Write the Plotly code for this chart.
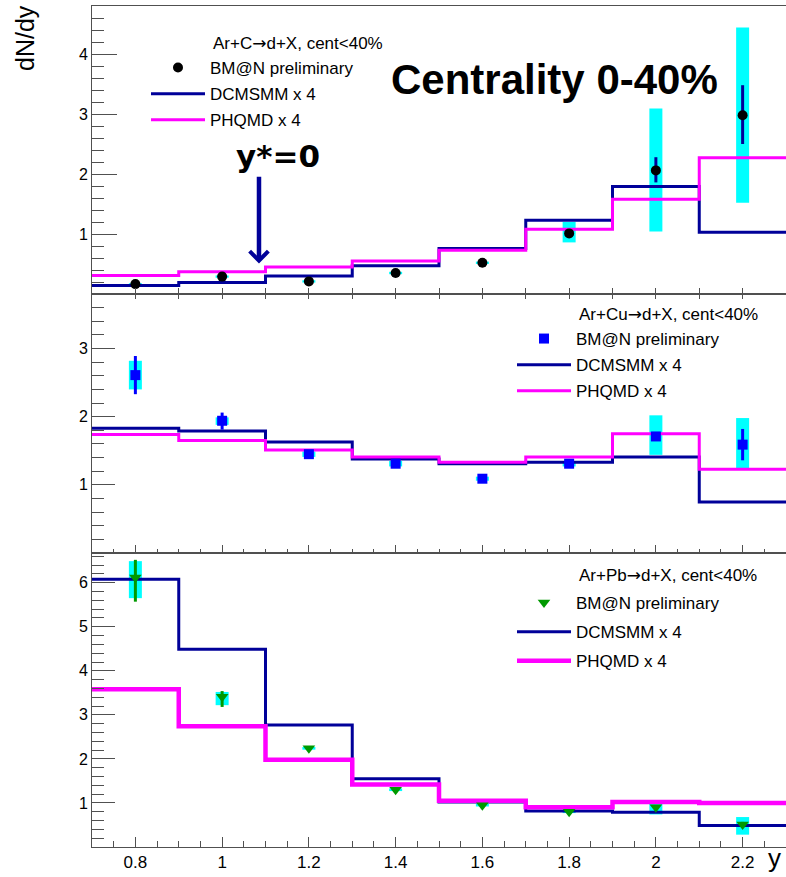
import plotly.graph_objects as go

# ---------------- data ----------------
rapidity = [0.8, 1.0, 1.2, 1.4, 1.6, 1.8, 2.0, 2.2]
bin_edges = [0.7, 0.9, 1.1, 1.3, 1.5, 1.7, 1.9, 2.1, 2.3]

# Ar+C
c_val = [0.165, 0.29, 0.21, 0.35, 0.52, 1.01, 2.06, 2.98]
c_stat_up = [0.01, 0.01, 0.01, 0.01, 0.01, 0.03, 0.22, 0.50]
c_stat_dn = [0.01, 0.01, 0.01, 0.01, 0.01, 0.03, 0.20, 0.48]
c_sys_hi = [0.18, 0.31, 0.23, 0.37, 0.54, 1.20, 3.09, 4.44]
c_sys_lo = [0.15, 0.27, 0.19, 0.33, 0.50, 0.86, 1.04, 1.52]
c_dcmsmm = [0.14, 0.19, 0.30, 0.47, 0.76, 1.23, 1.79, 1.03]
c_phqmd = [0.31, 0.37, 0.45, 0.55, 0.73, 1.08, 1.58, 2.27]

# Ar+Cu
cu_val = [2.61, 1.94, 1.45, 1.31, 1.09, 1.31, 1.71, 1.59]
cu_stat_up = [0.28, 0.12, 0.02, 0.02, 0.02, 0.02, 0.05, 0.23]
cu_stat_dn = [0.28, 0.13, 0.02, 0.02, 0.02, 0.02, 0.05, 0.23]
cu_sys_hi = [2.82, 1.99, 1.49, 1.35, 1.12, 1.35, 2.02, 1.98]
cu_sys_lo = [2.40, 1.88, 1.41, 1.27, 1.06, 1.27, 1.44, 1.22]
cu_dcmsmm = [1.83, 1.79, 1.63, 1.38, 1.31, 1.33, 1.41, 0.75]
cu_phqmd = [1.74, 1.65, 1.51, 1.41, 1.33, 1.41, 1.75, 1.23]

# Ar+Pb
pb_val = [6.12, 3.41, 2.24, 1.30, 0.95, 0.80, 0.90, 0.51]
pb_stat_up = [0.40, 0.13, 0.03, 0.03, 0.03, 0.03, 0.04, 0.06]
pb_stat_dn = [0.55, 0.23, 0.03, 0.03, 0.03, 0.03, 0.04, 0.06]
pb_sys_hi = [6.49, 3.52, 2.27, 1.33, 0.98, 0.83, 1.06, 0.68]
pb_sys_lo = [5.65, 3.22, 2.21, 1.27, 0.92, 0.77, 0.74, 0.28]
pb_dcmsmm = [6.08, 4.49, 2.77, 1.55, 1.02, 0.82, 0.79, 0.49]
pb_phqmd = [3.58, 2.74, 1.98, 1.42, 1.05, 0.90, 1.02, 1.00]

ARROW = '<span style="font-family:DejaVu Sans">\u2192</span>'
headers = [f"Ar+C{ARROW}d+X, cent<40%", f"Ar+Cu{ARROW}d+X, cent<40%",
           f"Ar+Pb{ARROW}d+X, cent<40%"]

# ---------------- styling ----------------
W, H = 786, 877
FONT = "Liberation Sans"
NAVY = "#000099"
MAGENTA = "#ff00ff"
CYAN = "#00ffff"
AXC = "#505050"


def px_x(p):
    return p / W


def px_y(p):
    return 1 - p / H


fig = go.Figure()

panels = [
    dict(val=c_val, su=c_stat_up, sd=c_stat_dn, hi=c_sys_hi, lo=c_sys_lo,
         dcm=c_dcmsmm, phq=c_phqmd, xa="x", ya="y", leg="legend",
         sym="circle", mcol="black", ecol=NAVY, msize=10, phq_w=3),
    dict(val=cu_val, su=cu_stat_up, sd=cu_stat_dn, hi=cu_sys_hi, lo=cu_sys_lo,
         dcm=cu_dcmsmm, phq=cu_phqmd, xa="x2", ya="y2", leg="legend2",
         sym="square", mcol="#0000ff", ecol="#0000ff", msize=10, phq_w=3),
    dict(val=pb_val, su=pb_stat_up, sd=pb_stat_dn, hi=pb_sys_hi, lo=pb_sys_lo,
         dcm=pb_dcmsmm, phq=pb_phqmd, xa="x3", ya="y3", leg="legend3",
         sym="triangle-down", mcol="#009900", ecol="#009900", msize=11, phq_w=4.5),
]

for i, p in enumerate(panels):
    # systematic uncertainties as wide cyan bands
    fig.add_trace(go.Scatter(
        x=rapidity, y=p["val"], mode="markers",
        marker=dict(size=1, color="rgba(0,0,0,0)"),
        error_y=dict(type="data", symmetric=False,
                     array=[h - v for h, v in zip(p["hi"], p["val"])],
                     arrayminus=[v - l for v, l in zip(p["val"], p["lo"])],
                     color=CYAN, thickness=13, width=0),
        xaxis=p["xa"], yaxis=p["ya"], showlegend=False, hoverinfo="skip"))
    # model histograms
    fig.add_trace(go.Scatter(
        x=bin_edges, y=p["dcm"] + [p["dcm"][-1]], mode="lines",
        line=dict(color=NAVY, width=3, shape="hv"),
        name="DCMSMM x 4", legend=p["leg"], legendgroup=f"dcm{i}", legendrank=2,
        xaxis=p["xa"], yaxis=p["ya"]))
    fig.add_trace(go.Scatter(
        x=bin_edges, y=p["phq"] + [p["phq"][-1]], mode="lines",
        line=dict(color=MAGENTA, width=p["phq_w"], shape="hv"),
        name="PHQMD x 4", legend=p["leg"], legendgroup=f"phq{i}", legendrank=3,
        xaxis=p["xa"], yaxis=p["ya"]))
    # measured points with statistical errors
    fig.add_trace(go.Scatter(
        x=rapidity, y=p["val"], mode="markers",
        marker=dict(symbol=p["sym"], size=p["msize"], color=p["mcol"],
                    line=dict(width=0)),
        error_y=dict(type="data", symmetric=False, array=p["su"],
                     arrayminus=p["sd"], color=p["ecol"], thickness=3, width=0),
        name="BM@N preliminary", legend=p["leg"], legendgroup=f"dat{i}",
        legendrank=1, xaxis=p["xa"], yaxis=p["ya"]))

# helper trace so the upper tick row of the middle panel is drawn
fig.add_trace(go.Scatter(x=[None], y=[None], xaxis="x4", yaxis="y2",
                         showlegend=False, hoverinfo="skip"))

X0 = px_x(92)
dom_top = [px_y(294), px_y(6)]
dom_mid = [px_y(553), px_y(294)]
dom_bot = [px_y(847), px_y(553)]

common_x = dict(range=[0.7, 2.3], showgrid=False, zeroline=False, showline=True,
                linecolor=AXC, linewidth=1, tickcolor=AXC, ticks="inside",
                domain=[X0, 1])
common_y = dict(showgrid=False, zeroline=False, showline=True, linecolor=AXC,
                linewidth=1, tickcolor=AXC, ticks="inside",
                tickfont=dict(family=FONT, size=16, color="black"))

fig.update_layout(
    width=W, height=H,
    margin=dict(l=0, r=0, t=0, b=0),
    paper_bgcolor="white", plot_bgcolor="white",
    font=dict(family=FONT, color="black"),
    xaxis=dict(**common_x, anchor="y", mirror=True, ticklen=6, tickmode="linear",
               tick0=0.7, dtick=0.1, showticklabels=False),
    xaxis2=dict(**common_x, anchor="y2", ticklen=8, tickmode="linear", tick0=0.8,
                dtick=0.2, showticklabels=False,
                minor=dict(ticks="inside", ticklen=4, tick0=0.7, dtick=0.05,
                           tickcolor=AXC)),
    xaxis4=dict(**common_x, anchor="y2", overlaying="x2", side="top", ticklen=5,
                tickmode="linear", tick0=0.7, dtick=0.1, showticklabels=False),
    xaxis3=dict(**common_x, anchor="y3", mirror=True, ticklen=10, tickmode="linear",
                tick0=0.8, dtick=0.2, showticklabels=True,
                tickfont=dict(family=FONT, size=17, color="black"),
                minor=dict(ticks="inside", ticklen=6, tick0=0.7, dtick=0.05,
                           tickcolor=AXC)),
    yaxis=dict(**common_y, domain=dom_top, anchor="x", range=[0, 4.8],
               tickmode="array", tickvals=[1, 2, 3, 4], ticklen=25,
               minor=dict(ticks="inside", ticklen=12, tick0=0, dtick=0.2,
                          tickcolor=AXC)),
    yaxis2=dict(**common_y, domain=dom_mid, anchor="x2", range=[0, 3.8],
                tickmode="array", tickvals=[1, 2, 3], ticklen=23,
                minor=dict(ticks="inside", ticklen=12, tick0=0, dtick=0.2,
                           tickcolor=AXC)),
    yaxis3=dict(**common_y, domain=dom_bot, anchor="x3", range=[0, 6.675],
                tickmode="array", tickvals=[1, 2, 3, 4, 5, 6], ticklen=23,
                minor=dict(ticks="inside", ticklen=12, tick0=0, dtick=0.2,
                           tickcolor=AXC)),
)

leg_common = dict(bgcolor="rgba(0,0,0,0)", borderwidth=0, traceorder="grouped",
                  itemwidth=54, xanchor="left", yanchor="top",
                  font=dict(family=FONT, size=17, color="black"))
fig.update_layout(
    legend=dict(**leg_common, tracegroupgap=1, x=px_x(146), y=px_y(50)),
    legend2=dict(**leg_common, tracegroupgap=1, x=px_x(512), y=px_y(321)),
    legend3=dict(**leg_common, tracegroupgap=4, x=px_x(512), y=px_y(585)),
)

annotations = [
    dict(text=headers[0], x=px_x(211), y=px_y(43)),
    dict(text=headers[1], x=px_x(577), y=px_y(314)),
    dict(text=headers[2], x=px_x(577), y=px_y(575)),
]
for a in annotations:
    fig.add_annotation(xref="paper", yref="paper", xanchor="left", yanchor="middle",
                       showarrow=False, font=dict(family=FONT, size=17, color="black"),
                       **a)

fig.add_annotation(xref="paper", yref="paper", x=px_x(554), y=px_y(80),
                   xanchor="center", yanchor="middle", showarrow=False,
                   text="<b>Centrality 0-40%</b>",
                   font=dict(family=FONT, size=42, color="black"))
fig.add_annotation(xref="paper", yref="paper", x=px_x(278), y=px_y(156),
                   xanchor="center", yanchor="middle", showarrow=False,
                   text="<b>y*=0</b>",
                   font=dict(family="DejaVu Sans", size=31, color="black"))
# arrow marking mid-rapidity
fig.add_annotation(xref="x", yref="y", x=1.085, y=0.51, axref="x", ayref="y",
                   ax=1.085, ay=1.98, text="", showarrow=True, arrowhead=4,
                   arrowwidth=4.5, arrowsize=0.8, arrowcolor=NAVY, standoff=0)
# axis titles
fig.add_annotation(xref="paper", yref="paper", x=px_x(25), y=px_y(38),
                   xanchor="center", yanchor="middle", showarrow=False,
                   text="dN/dy", textangle=-90,
                   font=dict(family=FONT, size=25, color="black"))
fig.add_annotation(xref="paper", yref="paper", x=px_x(774), y=px_y(858),
                   xanchor="center", yanchor="middle", showarrow=False,
                   text="y", font=dict(family=FONT, size=26, color="black"))

fig.write_html("out.html")
